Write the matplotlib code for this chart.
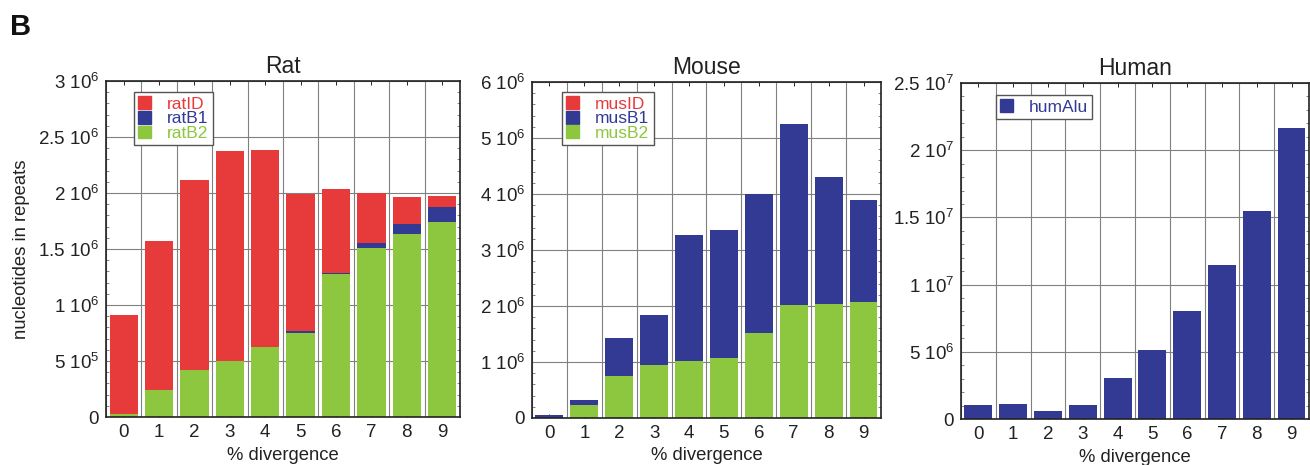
import matplotlib
matplotlib.use("Agg")
import matplotlib.pyplot as plt
import numpy as np
from matplotlib.patches import Patch
from matplotlib.ticker import MultipleLocator, FixedLocator

plt.rcParams['font.family'] = ['Liberation Sans', 'DejaVu Sans']
plt.rcParams['mathtext.fontset'] = 'custom'
plt.rcParams['mathtext.rm'] = 'Liberation Sans'
plt.rcParams['mathtext.it'] = 'Liberation Sans:italic'
plt.rcParams['mathtext.bf'] = 'Liberation Sans:bold'
plt.rcParams['mathtext.default'] = 'regular'

# ---------------- data ----------------
divergence = [0, 1, 2, 3, 4, 5, 6, 7, 8, 9]

ratB2 = [0.03e6, 0.245e6, 0.417e6, 0.497e6, 0.626e6, 0.754e6, 1.275e6, 1.513e6, 1.638e6, 1.743e6]
ratB1 = [0.0, 0.0, 0.0, 0.0, 0.0, 0.01e6, 0.015e6, 0.045e6, 0.081e6, 0.134e6]
ratID = [0.879e6, 1.325e6, 1.703e6, 1.877e6, 1.757e6, 1.226e6, 0.75e6, 0.442e6, 0.247e6, 0.095e6]

musB2 = [0.0, 0.226e6, 0.75e6, 0.94e6, 1.012e6, 1.071e6, 1.518e6, 2.012e6, 2.042e6, 2.065e6]
musB1 = [0.048e6, 0.101e6, 0.685e6, 0.893e6, 2.262e6, 2.286e6, 2.482e6, 3.238e6, 2.256e6, 1.828e6]
musID = [0.0, 0.0, 0.0, 0.0, 0.0, 0.0, 0.0, 0.0, 0.0, 0.0]

humAlu = [0.101e7, 0.111e7, 0.062e7, 0.101e7, 0.307e7, 0.51e7, 0.807e7, 1.149e7, 1.547e7, 2.163e7]

rat_yticks = [0, 5e5, 1e6, 1.5e6, 2e6, 2.5e6, 3e6]
rat_yticklabels = ["0", r"5 10$^{5}$", r"1 10$^{6}$", r"1.5 10$^{6}$", r"2 10$^{6}$", r"2.5 10$^{6}$", r"3 10$^{6}$"]
mus_yticks = [0, 1e6, 2e6, 3e6, 4e6, 5e6, 6e6]
mus_yticklabels = ["0", r"1 10$^{6}$", r"2 10$^{6}$", r"3 10$^{6}$", r"4 10$^{6}$", r"5 10$^{6}$", r"6 10$^{6}$"]
hum_yticks = [0, 5e6, 1e7, 1.5e7, 2e7, 2.5e7]
hum_yticklabels = ["0", r"5 10$^{6}$", r"1 10$^{7}$", r"1.5 10$^{7}$", r"2 10$^{7}$", r"2.5 10$^{7}$"]

RED = '#E63B3A'
BLUE = '#333A93'
GREEN = '#8DC63F'

fig = plt.figure(figsize=(13.1, 4.65), dpi=100)

ax_rat = fig.add_axes([0.0809, 0.1032, 0.2702, 0.7226])
ax_mus = fig.add_axes([0.4061, 0.1011, 0.2664, 0.7226])
ax_hum = fig.add_axes([0.7336, 0.0989, 0.2656, 0.7226])

x = np.array(divergence)
W = 0.8
TXT = '#222222'


def style(ax, yticks, ylabels, ymax, minor):
    ax.set_xlim(-0.5, 9.5)
    ax.set_ylim(0, ymax)
    ax.set_xticks(x)
    ax.set_xticklabels([str(v) for v in divergence], fontsize=13.5, color=TXT)
    ax.xaxis.set_minor_locator(FixedLocator(np.arange(-0.5, 10, 1.0)))
    ax.set_yticks(yticks)
    ax.set_yticklabels(ylabels, fontsize=13.5, color=TXT)
    ax.yaxis.set_minor_locator(MultipleLocator(minor))
    ax.tick_params(axis='both', which='both', direction='in', top=True, right=True)
    ax.tick_params(axis='x', which='major', length=3, width=0.6, pad=5)
    ax.tick_params(axis='x', which='minor', length=0)
    ax.tick_params(axis='y', which='major', length=0, pad=5)
    ax.tick_params(axis='y', which='minor', length=2.5, width=0.5, color='#555555')
    ax.grid(True, which='minor', axis='x', color='#808080', linewidth=0.8)
    ax.grid(True, which='major', axis='y', color='#808080', linewidth=0.8)
    ax.set_axisbelow(True)
    for s in ax.spines.values():
        s.set_linewidth(1.2)
        s.set_color(TXT)
    ax.set_xlabel('% divergence', fontsize=13.3, labelpad=4, color=TXT)


def add_legend(ax, handles, labels, colors, anchor):
    leg = ax.legend(handles, labels, loc='upper left', bbox_to_anchor=anchor,
                    borderaxespad=0, fancybox=False, frameon=True,
                    handlelength=0.75, handleheight=0.75, handletextpad=0.9,
                    labelspacing=-0.05, borderpad=0.25, fontsize=12.5)
    leg.get_frame().set_edgecolor('#555555')
    leg.get_frame().set_linewidth(1.0)
    leg.get_frame().set_alpha(1)
    for t, c in zip(leg.get_texts(), colors):
        t.set_color(c)
    return leg


# Rat
rb2 = np.array(ratB2)
rb1 = np.array(ratB1)
rid = np.array(ratID)
ax_rat.bar(x, rb2, W, color=GREEN, zorder=2)
ax_rat.bar(x, rb1, W, bottom=rb2, color=BLUE, zorder=2)
ax_rat.bar(x, rid, W, bottom=rb2 + rb1, color=RED, zorder=2)
style(ax_rat, rat_yticks, rat_yticklabels, 3e6, 1e5)
ax_rat.set_title('Rat', fontsize=16.5, pad=6, color=TXT)
ax_rat.set_ylabel('nucleotides in repeats', fontsize=13.3, labelpad=6, color=TXT)
add_legend(ax_rat, [Patch(color=RED), Patch(color=BLUE), Patch(color=GREEN)],
           ['ratID', 'ratB1', 'ratB2'], [RED, BLUE, GREEN], (0.079, 0.967))

# Mouse
mb2 = np.array(musB2)
mb1 = np.array(musB1)
mid = np.array(musID)
ax_mus.bar(x, mb2, W, color=GREEN, zorder=2)
ax_mus.bar(x, mb1, W, bottom=mb2, color=BLUE, zorder=2)
ax_mus.bar(x, mid, W, bottom=mb2 + mb1, color=RED, zorder=2)
style(ax_mus, mus_yticks, mus_yticklabels, 6e6, 2e5)
ax_mus.set_title('Mouse', fontsize=16.5, pad=6, color=TXT)
add_legend(ax_mus, [Patch(color=RED), Patch(color=BLUE), Patch(color=GREEN)],
           ['musID', 'musB1', 'musB2'], [RED, BLUE, GREEN], (0.086, 0.97))

# Human
ax_hum.bar(x, np.array(humAlu), W, color=BLUE, zorder=2)
style(ax_hum, hum_yticks, hum_yticklabels, 2.5e7, 1e6)
ax_hum.set_title('Human', fontsize=16.5, pad=6, color=TXT)
add_legend(ax_hum, [Patch(color=BLUE)], ['humAlu'], [BLUE], (0.10, 0.964))

fig.text(0.008, 0.925, 'B', fontsize=21, fontweight='bold', color='#111111')

fig.savefig('out.png', dpi=100)
